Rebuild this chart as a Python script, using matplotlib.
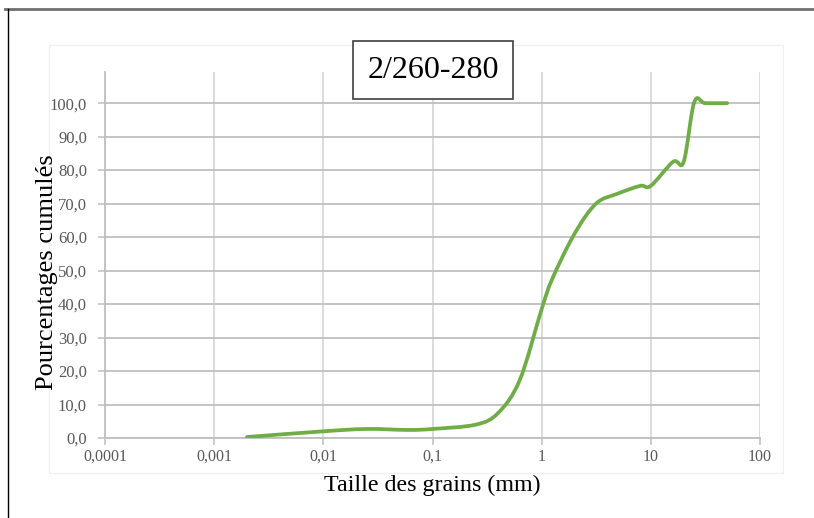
import numpy as np
import matplotlib
matplotlib.use('Agg')
import matplotlib.pyplot as plt
from matplotlib.path import Path
from matplotlib.patches import PathPatch
from matplotlib.lines import Line2D
from matplotlib.ticker import FixedLocator, NullLocator

# grain size (mm) and cumulative percentage
size_mm = [0.002, 0.01, 0.025, 0.06, 0.1, 0.25, 0.4, 0.63, 1.0, 1.25,
           2.0, 3.15, 5.0, 8.0, 10.0, 16.0, 20.0, 25.0, 31.5, 50.0]
cumul_pct = [0.3, 2.0, 2.7, 2.4, 2.7, 4.0, 7.5, 17.3, 38.5, 47.5,
             61.0, 70.0, 73.0, 75.3, 75.3, 82.5, 82.5, 100.3, 100.0, 100.0]

x_ticks = [0.0001, 0.001, 0.01, 0.1, 1, 10, 100]
x_tick_labels = ['0,0001', '0,001', '0,01', '0,1', '1', '10', '100']
y_ticks = [0, 10, 20, 30, 40, 50, 60, 70, 80, 90, 100]
y_tick_labels = [f'{v:.1f}'.replace('.', ',') for v in y_ticks]

title = '2/260-280'
x_label = 'Taille des grains (mm)'
y_label = 'Pourcentages cumulés'

serif = 'Liberation Serif'
green = '#70AD47'


def smooth_path(xs, ys):
    # Excel-style smoothed line: Catmull-Rom bezier segments in log-x space
    u = np.log10(np.asarray(xs, float))
    v = np.asarray(ys, float)
    n = len(u)
    verts = [(xs[0], ys[0])]
    codes = [Path.MOVETO]
    for i in range(n - 1):
        i0 = max(i - 1, 0)
        i3 = min(i + 2, n - 1)
        c1u = u[i] + (u[i + 1] - u[i0]) / 6
        c1v = v[i] + (v[i + 1] - v[i0]) / 6
        c2u = u[i + 1] - (u[i3] - u[i]) / 6
        c2v = v[i + 1] - (v[i3] - v[i]) / 6
        verts += [(10 ** c1u, c1v), (10 ** c2u, c2v), (xs[i + 1], ys[i + 1])]
        codes += [Path.CURVE4] * 3
    return Path(verts, codes)


fig = plt.figure(figsize=(8.14, 5.18), dpi=100)
ax = fig.add_axes([105 / 814, 80 / 518, 655 / 814, 366 / 518])

ax.set_xscale('log')
ax.set_xlim(0.0001, 100)
ax.set_ylim(0, 109.3)

patch = PathPatch(smooth_path(size_mm, cumul_pct), fill=False, edgecolor=green,
                  linewidth=2.7, capstyle='round', joinstyle='round', zorder=3)
ax.add_patch(patch)

ax.xaxis.set_major_locator(FixedLocator(x_ticks))
ax.xaxis.set_minor_locator(NullLocator())
ax.set_xticklabels(x_tick_labels)
ax.set_yticks(y_ticks)
ax.set_yticklabels(y_tick_labels)

for t in ax.get_xticklabels():
    t.set_fontfamily(serif)
    t.set_fontsize(11.5)
    t.set_color('#595959')
for t in ax.get_yticklabels():
    t.set_fontfamily(serif)
    t.set_fontsize(12)
    t.set_color('#595959')

ax.tick_params(axis='both', length=5, width=1.1, color='#BFBFBF', direction='out')
ax.tick_params(axis='x', pad=3)
ax.tick_params(axis='y', pad=8)

ax.grid(axis='y', color='#BFBFBF', linewidth=1.3)
ax.grid(axis='x', color='#D9D9D9', linewidth=1.3)
ax.set_axisbelow(True)

for side in ['top', 'right']:
    ax.spines[side].set_visible(False)
for side in ['left', 'bottom']:
    ax.spines[side].set_color('#BFBFBF')
    ax.spines[side].set_linewidth(1.3)

ax.set_xlabel(x_label, fontfamily=serif, fontsize=17.3, labelpad=7)
fig.text(47 / 814, 1 - 272 / 518, y_label, fontfamily=serif, fontsize=19,
         rotation=90, ha='center', va='center')

fig.text(433 / 814, 1 - 70 / 518, title, fontfamily=serif, fontsize=23,
         ha='center', va='center',
         bbox=dict(boxstyle='square,pad=0.45', facecolor='white',
                   edgecolor='#404040', linewidth=1.2))

# faint plot-area frame and outer border of the pasted chart
fig.patches.append(plt.Rectangle((49 / 814, 1 - 473 / 518), 734 / 814, 428 / 518,
                                 transform=fig.transFigure, fill=False,
                                 edgecolor='#F0F0F0', linewidth=1))
fig.lines.append(Line2D([5 / 814, 1], [1 - 9 / 518, 1 - 9 / 518],
                        transform=fig.transFigure, color='#707070', linewidth=2))
fig.lines.append(Line2D([8 / 814, 8 / 814], [0, 1 - 9 / 518],
                        transform=fig.transFigure, color='black', linewidth=1))

fig.savefig('out.png', dpi=100)
